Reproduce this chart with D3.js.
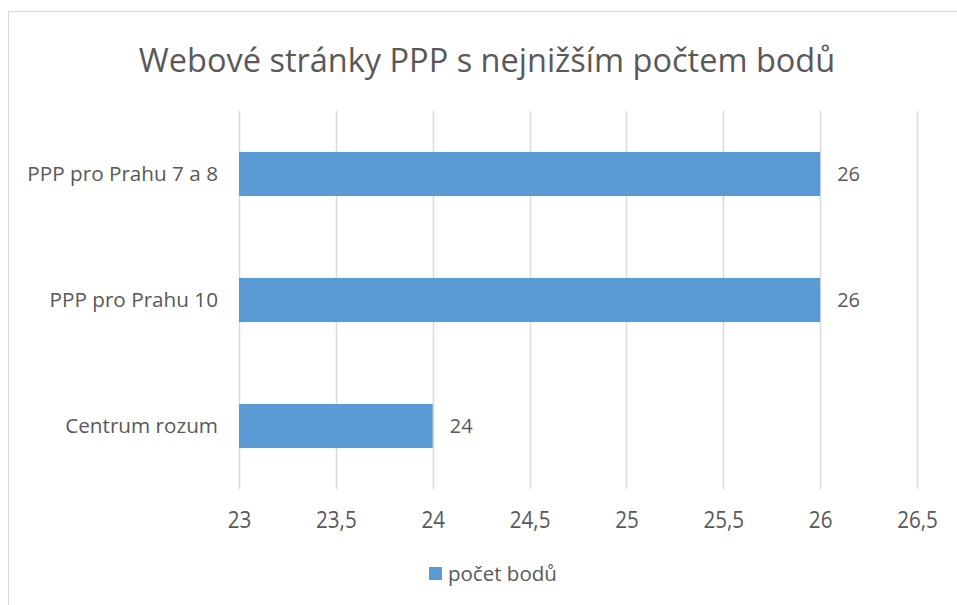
<!DOCTYPE html>
<html>
<head>
<meta charset="utf-8">
<script src="https://cdn.jsdelivr.net/npm/d3@7"></script>
<style>
  body { margin: 0; background: #fff; }
  text { font-family: "Open Sans", sans-serif; fill: #595959; }
</style>
</head>
<body>
<div id="chart"></div>
<script>
const width = 957;
const height = 605;

const categories = ["PPP pro Prahu 7 a 8", "PPP pro Prahu 10", "Centrum rozum"];
const values = [26, 26, 24];
const ticks = [23, 23.5, 24, 24.5, 25, 25.5, 26, 26.5];
const title = "Webové stránky PPP s nejnižším počtem bodů";
const seriesName = "počet bodů";

const margin = { top: 111, right: 40, bottom: 116, left: 239 };

const svg = d3
  .select("#chart")
  .append("svg")
  .attr("width", width)
  .attr("height", height);

// chart frame (only left and top edges are visible)
svg
  .append("path")
  .attr("d", `M8.5,${height + 5} L8.5,11.5 L${width + 5},11.5`)
  .attr("fill", "none")
  .attr("stroke", "#d9d9d9")
  .attr("stroke-width", 1);

const xScale = d3
  .scaleLinear()
  .domain([23, 26.5])
  .range([margin.left, 917]);

const yScale = d3
  .scaleBand()
  .domain(categories)
  .range([margin.top, height - margin.bottom])
  .paddingInner(0.65)
  .paddingOuter(0.325);

// gridlines
svg
  .append("g")
  .selectAll("line")
  .data(ticks)
  .enter()
  .append("line")
  .attr("x1", (d) => Math.round(xScale(d)) + 0.5)
  .attr("x2", (d) => Math.round(xScale(d)) + 0.5)
  .attr("y1", margin.top)
  .attr("y2", height - margin.bottom)
  .attr("stroke", "#d9d9d9")
  .attr("stroke-width", 1.5);

// x axis labels (tall, narrow digits like the original)
const xAxis = d3
  .axisBottom(xScale)
  .tickValues(ticks)
  .tickSize(0)
  .tickPadding(0)
  .tickFormat((d) => String(d).replace(".", ","));

svg
  .append("g")
  .attr("transform", `translate(0, ${height - margin.bottom + 22})`)
  .call(xAxis)
  .call((g) => g.select(".domain").remove())
  .selectAll("text")
  .attr("font-size", 24)
  .attr("transform", "scale(0.86, 1)")
  .attr("font-family", "Open Sans, sans-serif")
  .attr("fill", "#595959");

// category labels
const yAxis = d3.axisLeft(yScale).tickSize(0).tickPadding(21);
svg
  .append("g")
  .attr("transform", `translate(${margin.left}, 0)`)
  .call(yAxis)
  .call((g) => g.select(".domain").remove())
  .selectAll("text")
  .attr("font-size", 20.7)
  .attr("font-family", "Open Sans, sans-serif")
  .attr("fill", "#595959");

// bars
svg
  .append("g")
  .selectAll("rect")
  .data(values)
  .enter()
  .append("rect")
  .attr("x", xScale(23))
  .attr("y", (d, i) => yScale(categories[i]))
  .attr("width", (d) => xScale(d) - xScale(23))
  .attr("height", yScale.bandwidth())
  .attr("fill", "#5b9bd5");

// value labels
svg
  .append("g")
  .selectAll("text")
  .data(values)
  .enter()
  .append("text")
  .attr("x", (d) => xScale(d) + 17)
  .attr("y", (d, i) => yScale(categories[i]) + yScale.bandwidth() / 2)
  .attr("dy", "0.35em")
  .attr("font-size", 20)
  .text((d) => d);

// title
svg
  .append("text")
  .attr("x", 487)
  .attr("y", 72)
  .attr("text-anchor", "middle")
  .attr("font-size", 32.5)
  .text(title);

// legend
const legend = svg.append("g").attr("transform", "translate(429, 567)");
legend
  .append("rect")
  .attr("width", 13)
  .attr("height", 13)
  .attr("fill", "#5b9bd5");
legend
  .append("text")
  .attr("x", 19)
  .attr("y", 7)
  .attr("dy", "0.35em")
  .attr("font-size", 20.5)
  .text(seriesName);
</script>
</body>
</html>
